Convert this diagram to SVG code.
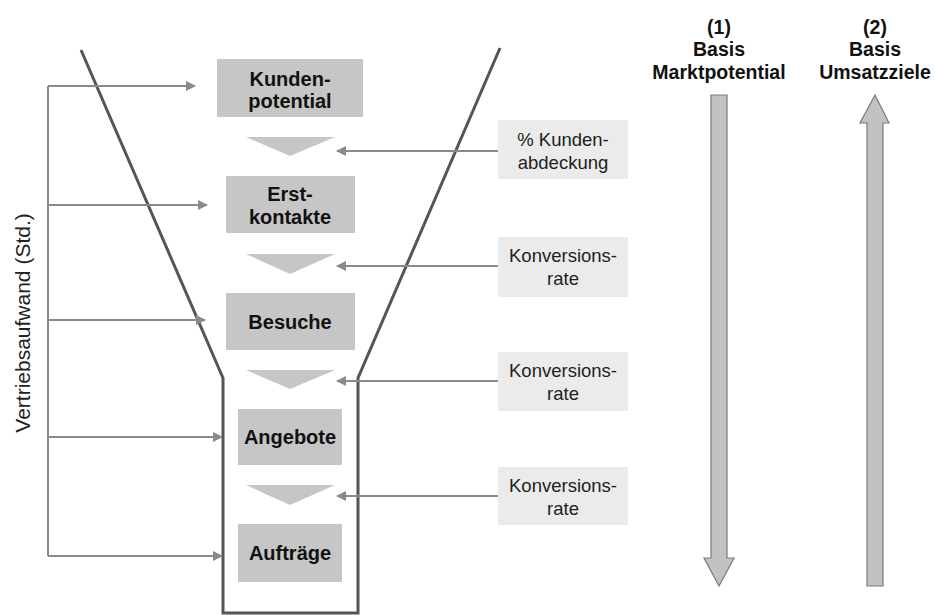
<svg xmlns="http://www.w3.org/2000/svg" width="935" height="615" viewBox="0 0 935 615">
<defs>
<style>
.stage{fill:#c6c6c6}
.stagetxt{font-family:"Liberation Sans",Arial,sans-serif;font-weight:bold;font-size:20px;fill:#111;text-anchor:middle}
.lbl{fill:#ebebeb}
.lbltxt{font-family:"Liberation Sans",Arial,sans-serif;font-size:18.5px;fill:#222;text-anchor:middle}
.tri{fill:#c6c6c6}
.conn{stroke:#8a8a8a;stroke-width:2;fill:none}
.funnel{stroke:#555;stroke-width:3;fill:none}
.big{fill:#c2c2c2;stroke:#7a7a7a;stroke-width:1.2}
.title{font-family:"Liberation Sans",Arial,sans-serif;font-weight:bold;font-size:19.5px;fill:#111;text-anchor:middle}
</style>
<marker id="ah" viewBox="0 0 10 10" refX="9" refY="5" markerWidth="5" markerHeight="5" orient="auto" markerUnits="strokeWidth">
<path d="M0,0 L10,5 L0,10 z" fill="#8a8a8a"/>
</marker>
</defs>
<rect width="935" height="615" fill="#fff"/>

<g id="funnel">
<polyline class="funnel" points="81,50 223,378 223,613 358,613 358,378 500,48"/>
</g>

<g id="stage-kundenpotential">
<rect class="stage" x="217" y="59" width="146" height="58"/>
<text class="stagetxt" x="290" y="86">Kunden-</text>
<text class="stagetxt" x="290" y="108">potential</text>
</g>
<g id="stage-erstkontakte">
<rect class="stage" x="226" y="176" width="129" height="57"/>
<text class="stagetxt" x="290" y="201">Erst-</text>
<text class="stagetxt" x="290" y="224">kontakte</text>
</g>
<g id="stage-besuche">
<rect class="stage" x="226" y="293" width="129" height="57"/>
<text class="stagetxt" x="290" y="329">Besuche</text>
</g>
<g id="stage-angebote">
<rect class="stage" x="238" y="409" width="104" height="56"/>
<text class="stagetxt" x="290" y="444">Angebote</text>
</g>
<g id="stage-auftraege">
<rect class="stage" x="238" y="524" width="104" height="58"/>
<text class="stagetxt" x="290" y="560">Aufträge</text>
</g>

<g id="triangles">
<polygon class="tri" points="246,137 335,137 290,156"/>
<polygon class="tri" points="246,254 335,254 290,274"/>
<polygon class="tri" points="246,370 335,370 290,389"/>
<polygon class="tri" points="246,485 335,485 290,505"/>
</g>

<g id="rate-kundenabdeckung">
<rect class="lbl" x="498" y="120" width="130" height="59"/>
<text class="lbltxt" x="563" y="146">% Kunden-</text>
<text class="lbltxt" x="563" y="169">abdeckung</text>
</g>
<g id="rate-konversion-1">
<rect class="lbl" x="498" y="237" width="130" height="60"/>
<text class="lbltxt" x="563" y="262">Konversions-</text>
<text class="lbltxt" x="563" y="285">rate</text>
</g>
<g id="rate-konversion-2">
<rect class="lbl" x="498" y="352" width="130" height="59"/>
<text class="lbltxt" x="563" y="377">Konversions-</text>
<text class="lbltxt" x="563" y="400">rate</text>
</g>
<g id="rate-konversion-3">
<rect class="lbl" x="498" y="467" width="130" height="58"/>
<text class="lbltxt" x="563" y="492">Konversions-</text>
<text class="lbltxt" x="563" y="515">rate</text>
</g>

<g id="connectors">
<polyline class="conn" points="48,86 48,556"/>
<line class="conn" x1="48" y1="86" x2="195" y2="86" marker-end="url(#ah)"/>
<line class="conn" x1="48" y1="205" x2="207" y2="205" marker-end="url(#ah)"/>
<line class="conn" x1="48" y1="320" x2="205" y2="320" marker-end="url(#ah)"/>
<line class="conn" x1="48" y1="437" x2="222" y2="437" marker-end="url(#ah)"/>
<line class="conn" x1="48" y1="556" x2="222" y2="556" marker-end="url(#ah)"/>
<line class="conn" x1="498" y1="151" x2="337" y2="151" marker-end="url(#ah)"/>
<line class="conn" x1="498" y1="266" x2="337" y2="266" marker-end="url(#ah)"/>
<line class="conn" x1="498" y1="381" x2="337" y2="381" marker-end="url(#ah)"/>
<line class="conn" x1="498" y1="496" x2="337" y2="496" marker-end="url(#ah)"/>
</g>

<g id="axis-label">
<text transform="translate(30,323) rotate(-90)" font-family="'Liberation Sans',Arial,sans-serif" font-size="21" fill="#222" text-anchor="middle">Vertriebsaufwand (Std.)</text>
</g>

<g id="basis-marktpotential">
<text class="title" x="719" y="34">(1)</text>
<text class="title" x="719" y="56">Basis</text>
<text class="title" x="719" y="79">Marktpotential</text>
<polygon class="big" points="711,95 727,95 727,558 734,558 719,586 704,558 711,558"/>
</g>
<g id="basis-umsatzziele">
<text class="title" x="875" y="34">(2)</text>
<text class="title" x="875" y="56">Basis</text>
<text class="title" x="875" y="79">Umsatzziele</text>
<polygon class="big" points="875,95 889,123 883,123 883,586 867,586 867,123 860,123"/>
</g>
</svg>
